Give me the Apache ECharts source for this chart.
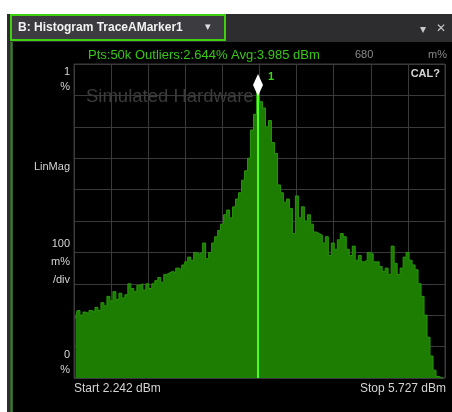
<!DOCTYPE html>
<html>
<head>
<meta charset="utf-8">
<script src="https://cdn.jsdelivr.net/npm/echarts@6/dist/echarts.min.js"></script>
<style>
  html, body { margin: 0; padding: 0; background: #fff; }
  #chart { width: 452px; height: 412px; }
</style>
</head>
<body>
<div id="chart"></div>
<script>
// histogram range in dBm
const startDbm = 2.242
const stopDbm = 5.727

// bin heights in % (LinMag, 100 m%/div) left to right
const binValues = [
  0.19, 0.215, 0.20, 0.21, 0.205, 0.215, 0.21, 0.225, 0.215, 0.24,
  0.23, 0.26, 0.245, 0.275, 0.25, 0.27, 0.255, 0.265, 0.30, 0.285,
  0.275, 0.295, 0.30, 0.28, 0.30, 0.285, 0.30, 0.31, 0.32, 0.305,
  0.33, 0.335, 0.34, 0.335, 0.35, 0.345, 0.36, 0.37, 0.385, 0.375,
  0.40, 0.395, 0.40, 0.43, 0.38, 0.40, 0.43, 0.45, 0.47, 0.49,
  0.52, 0.535, 0.51, 0.545, 0.57, 0.59, 0.63, 0.66, 0.70, 0.79,
  0.84, 0.92, 0.88, 0.86, 0.80, 0.82, 0.75, 0.715, 0.615, 0.59,
  0.56, 0.57, 0.54, 0.46, 0.58, 0.51, 0.545, 0.50, 0.52, 0.49,
  0.465, 0.46, 0.455, 0.43, 0.45, 0.39, 0.43, 0.41, 0.44, 0.46,
  0.45, 0.41, 0.39, 0.42, 0.375, 0.39, 0.37, 0.375, 0.40, 0.395,
  0.37, 0.37, 0.355, 0.34, 0.35, 0.33, 0.42, 0.365, 0.33, 0.35,
  0.385, 0.40, 0.375, 0.36, 0.345, 0.30, 0.26, 0.20, 0.13, 0.07,
  0.025, 0.005, 0, 0
]

const markerBin = 61
const markerLabel = '1'

const statsText = 'Pts:50k Outliers:2.644% Avg:3.985 dBm'
const titleText = 'B: Histogram TraceAMarker1'
const leftLabels = ['1', '%', 'LinMag', '100', 'm%', '/div', '0', '%']

const binWidth = (stopDbm - startDbm) / binValues.length
const binCenters = binValues.map((v, i) => (startDbm + (i + 0.5) * binWidth).toFixed(3))

const font = '"Liberation Sans", Arial, sans-serif'
const labelColor = '#d4d4d4'

const myChart = echarts.init(document.getElementById('chart'))

const txt = (x, y, text, style) => ({
  type: 'text', x, y, z: 100,
  style: Object.assign({ text, fill: labelColor, font: '11px ' + font, textVerticalAlign: 'middle' }, style)
})

const leftY = [72, 87, 167, 244, 262, 280, 355, 370]

option = {
  backgroundColor: '#fff',
  animation: false,
  grid: {
    left: 74, top: 64, width: 371, height: 314,
    show: true, borderColor: '#3a3a3a', borderWidth: 1
  },
  xAxis: [
    {
      type: 'category',
      data: binCenters,
      boundaryGap: true,
      axisLine: { show: false },
      axisTick: { show: false },
      axisLabel: { show: false },
      splitLine: { show: false }
    },
    {
      type: 'value',
      min: 0, max: 10, interval: 1,
      position: 'bottom',
      axisLine: { show: false },
      axisTick: { show: false },
      axisLabel: { show: false },
      splitLine: { show: true, lineStyle: { color: '#3a3a3a', width: 1 } }
    }
  ],
  yAxis: {
    type: 'value',
    min: 0, max: 1, interval: 0.1,
    axisLine: { show: false },
    axisTick: { show: false },
    axisLabel: { show: false },
    splitLine: { show: true, lineStyle: { color: '#3a3a3a', width: 1 } }
  },
  graphic: [
    // window chrome
    { type: 'rect', z: -10, shape: { x: 7, y: 14, width: 445, height: 398 }, style: { fill: '#2d2d30' } },
    { type: 'rect', z: -9, shape: { x: 13, y: 42, width: 439, height: 370 }, style: { fill: '#000' } },
    { type: 'rect', z: -9, shape: { x: 74, y: 64, width: 371, height: 314 }, style: { fill: '#000' } },
    { type: 'line', z: -8, shape: { x1: 11.5, y1: 42, x2: 11.5, y2: 412 }, style: { stroke: '#2f8a1a', lineWidth: 2 } },
    { type: 'rect', z: 50, shape: { x: 11, y: 15, width: 214, height: 25 }, style: { fill: '#3b3b40', stroke: '#3fd010', lineWidth: 2 } },
    txt(18, 28, titleText, { fill: '#f2f2f2', font: 'bold 12px ' + font }),
    txt(205, 27, '\u25BE', { fill: '#e0e0e0', font: '11px ' + font }),
    txt(420, 30, '\u25BE', { fill: '#c8c8c8', font: '12px ' + font }),
    txt(436, 29, '\u2715', { fill: '#c8c8c8', font: '12px ' + font }),
    // status line
    txt(88, 55, statsText, { fill: '#35c814', font: '13px ' + font }),
    txt(355, 55, '680', { fill: '#8a8a8a', font: '11px ' + font }),
    txt(428, 55, 'm%', { fill: '#8a8a8a', font: '11px ' + font }),
    // watermark, behind the bars
    { type: 'text', z: -5, x: 86, y: 97, style: { text: 'Simulated Hardware', fill: '#3c3c3c', font: '18.5px ' + font, textVerticalAlign: 'middle' } },
    txt(440, 74, 'CAL?', { font: 'bold 11px ' + font, textAlign: 'right' }),
    ...leftLabels.map((t, i) => txt(70, leftY[i], t, { textAlign: 'right' })),
    txt(74, 389, 'Start ' + startDbm.toFixed(3) + ' dBm', { font: '12px ' + font }),
    txt(446, 389, 'Stop ' + stopDbm.toFixed(3) + ' dBm', { font: '12px ' + font, textAlign: 'right' })
  ],
  series: [
    {
      // histogram drawn as a stepped filled trace, one step per bin
      type: 'line',
      step: 'middle',
      data: binValues,
      symbol: 'none',
      lineStyle: { color: '#28960a', width: 1 },
      areaStyle: { color: '#1c7d02', opacity: 1 },
      markLine: {
        silent: true,
        symbol: 'none',
        label: { show: false },
        lineStyle: { color: '#4dff1a', width: 2, type: 'solid' },
        data: [[{ coord: [markerBin, 0] }, { coord: [markerBin, binValues[markerBin]] }]]
      },
      markPoint: {
        silent: true,
        symbol: 'diamond',
        symbolSize: [10, 22],
        symbolOffset: [0, -4],
        itemStyle: { color: '#ffffff' },
        label: {
          show: true, position: 'right', offset: [0, -8],
          color: '#3cd81a', fontWeight: 'bold', fontSize: 11, fontFamily: font,
          formatter: markerLabel
        },
        data: [{ coord: [markerBin, binValues[markerBin]] }]
      }
    }
  ]
}

myChart.setOption(option)
</script>
</body>
</html>
